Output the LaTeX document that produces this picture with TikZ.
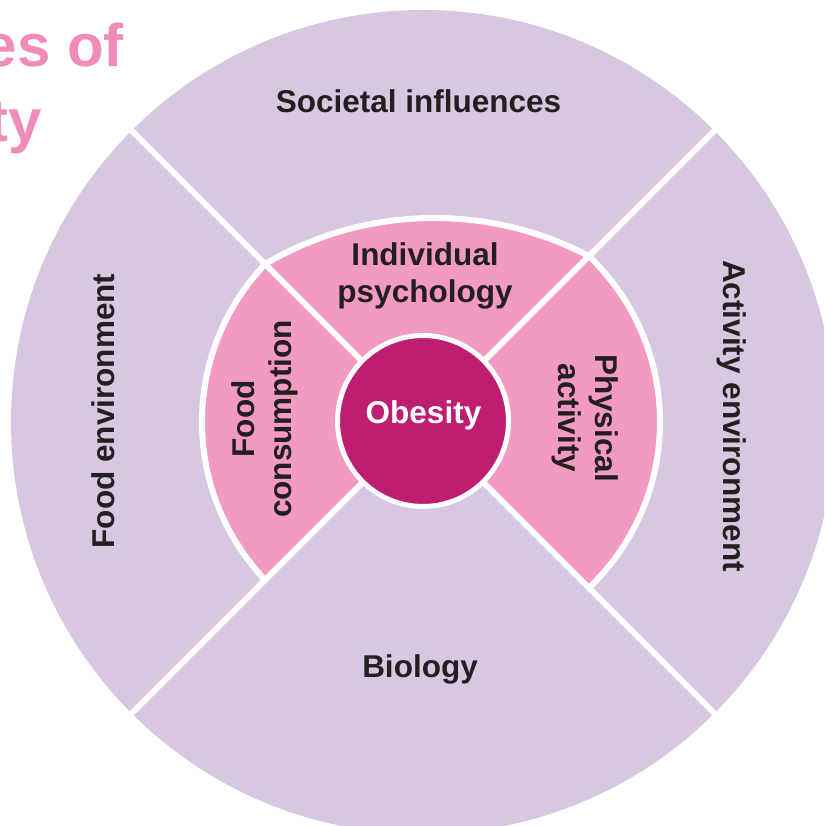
\documentclass[tikz,border=0pt]{standalone}
\usepackage{fontspec}
\setmainfont{Liberation Sans}
\definecolor{lilac}{RGB}{216,199,224}
\definecolor{rosepink}{RGB}{243,154,194}
\definecolor{hubmagenta}{RGB}{190,30,114}
\definecolor{titlepink}{RGB}{240,140,185}
\definecolor{labelgrey}{RGB}{35,31,32}
\begin{document}
\begin{tikzpicture}[
		x=1pt, y=1pt,
		factor/.style={font=\bfseries\fontsize{31.5}{37}\selectfont, text=labelgrey, align=center, inner sep=0pt},
		heading/.style={font=\bfseries\fontsize{60}{74}\selectfont, text=titlepink, inner sep=0pt, anchor=base east},
		divider/.style={draw=white, line width=6pt}
	]
	\clip (-423,-404) rectangle (401,422);
	% outer ring
	\fill[lilac] (0,0) circle (412);
	% middle ring: top part is flatter than the sides
	\begin{scope}
		\clip (0,0) -- (45:500) -- (135:500) -- cycle;
		\filldraw[divider, fill=rosepink] (11.2,-128.5) circle (332.5);
	\end{scope}
	\begin{scope}
		\clip (0,0) -- (135:500) -- (225:500) -- cycle
			(0,0) -- (-45:500) -- (45:500) -- cycle;
		\filldraw[divider, fill=rosepink] (8,0) circle (229);
	\end{scope}
	\draw[divider] (135:420) -- (315:420);
	\draw[divider] (45:420) -- (225:420);
	% centre
	\filldraw[fill=hubmagenta, draw=white, line width=5pt] (0,1) circle (85.5);
	\node[factor, text=white] (obesity) at (0.5,6.5) {Obesity};
	\node[factor] (psychology) at (2,146) {Individual\\psychology};
	\node[factor, rotate=90] (consumption) at (-158,3) {Food\\consumption};
	\node[factor, rotate=-90] (activity) at (162,4) {Physical\\activity};
	\node[factor] (societal) at (-4.5,321) {Societal influences};
	\node[factor, rotate=90] (foodenv) at (-320,11) {Food environment};
	\node[factor, rotate=-90] (activityenv) at (309,6) {Activity environment};
	\node[factor] (biology) at (-3,-247) {Biology};
	% title, cut at the left edge
	\node[heading] (titleA) at (-299,355) {es of};
	\node[heading] (titleB) at (-381,280) {ty};
\end{tikzpicture}
\end{document}
